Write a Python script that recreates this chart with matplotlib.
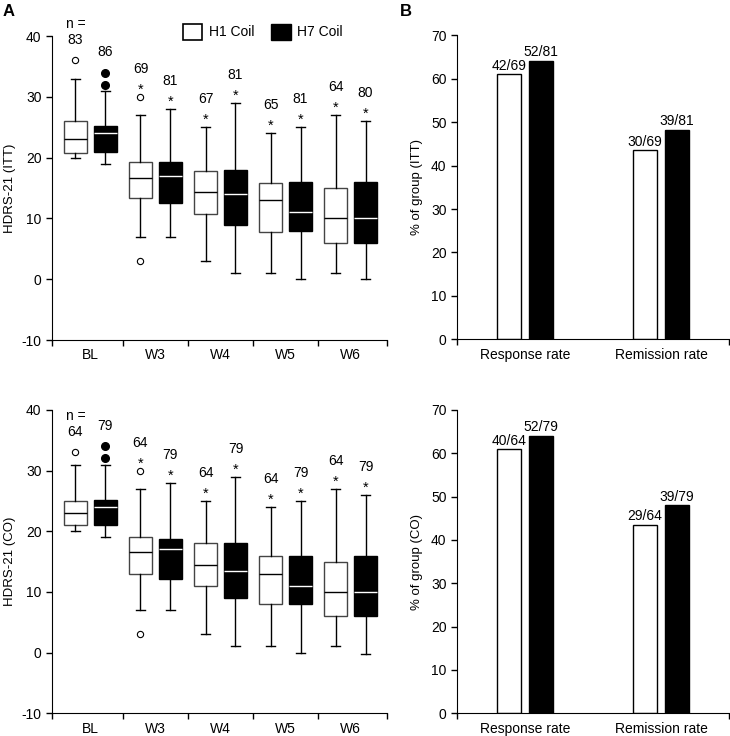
import numpy as np
import matplotlib.pyplot as plt
from matplotlib.patches import Patch

plt.rcParams['font.family'] = ['Liberation Sans', 'DejaVu Sans']
plt.rcParams['axes.unicode_minus'] = False

weeks = ['BL', 'W3', 'W4', 'W5', 'W6']
stars = [False, True, True, True, True]

# HDRS-21 box summaries (whisker low, Q1, median, Q3, whisker high)
itt_h1_lo = [20, 7, 3, 1, 1]
itt_h1_q1 = [20.8, 13.3, 10.7, 7.8, 6]
itt_h1_med = [23, 16.7, 14.3, 13, 10]
itt_h1_q3 = [26, 19.3, 17.8, 15.8, 15]
itt_h1_hi = [33, 27, 25, 24, 27]
itt_h1_out = [[36], [30, 3], [], [], []]
itt_h1_n = [83, 69, 67, 65, 64]

itt_h7_lo = [19, 7, 1, 0, 0]
itt_h7_q1 = [21, 12.5, 9, 8, 6]
itt_h7_med = [24, 17, 14, 11, 10]
itt_h7_q3 = [25.2, 19.3, 18, 16, 16]
itt_h7_hi = [31, 28, 29, 25, 26]
itt_h7_out = [[34, 32], [], [], [], []]
itt_h7_n = [86, 81, 81, 81, 80]

co_h1_lo = [20, 7, 3, 1, 1]
co_h1_q1 = [21, 13, 11, 8, 6]
co_h1_med = [23, 16.5, 14.5, 13, 10]
co_h1_q3 = [25, 19, 18, 16, 15]
co_h1_hi = [31, 27, 25, 24, 27]
co_h1_out = [[33], [30, 3], [], [], []]
co_h1_n = [64, 64, 64, 64, 64]

co_h7_lo = [19, 7, 1, 0, -0.2]
co_h7_q1 = [21, 12.2, 9, 8, 6]
co_h7_med = [24, 17, 13.4, 11, 10]
co_h7_q3 = [25.2, 18.8, 18, 16, 16]
co_h7_hi = [31, 28, 29, 25, 26]
co_h7_out = [[34, 32], [], [], [], []]
co_h7_n = [79, 79, 79, 79, 79]

# response / remission
rates = ['Response rate', 'Remission rate']
itt_h1_pct = [61.0, 43.5]
itt_h7_pct = [64.2, 48.2]
itt_h1_lbl = ['42/69', '30/69']
itt_h7_lbl = ['52/81', '39/81']
co_h1_pct = [60.9, 43.4]
co_h7_pct = [64.1, 48.0]
co_h1_lbl = ['40/64', '29/64']
co_h7_lbl = ['52/79', '39/79']


def make_stats(lo, q1, med, q3, hi, out):
    return [dict(whislo=a, q1=b, med=c, q3=d, whishi=e, fliers=np.array(f))
            for a, b, c, d, e, f in zip(lo, q1, med, q3, hi, out)]


def box_panel(ax, h1, h7, n1, n7, ylabel):
    x = np.arange(len(weeks))
    off = 0.23
    w = 0.36
    ax.bxp(h1, positions=x - off, widths=w, patch_artist=True, showfliers=True,
           boxprops=dict(facecolor='white', edgecolor='#444444', linewidth=1.0),
           medianprops=dict(color='black', linewidth=1.0),
           whiskerprops=dict(color='black', linewidth=1.0),
           capprops=dict(color='black', linewidth=1.0), capwidths=0.14,
           flierprops=dict(marker='o', markersize=4.5, markerfacecolor='white',
                           markeredgecolor='black', markeredgewidth=0.8))
    ax.bxp(h7, positions=x + off, widths=w, patch_artist=True, showfliers=True,
           boxprops=dict(facecolor='black', edgecolor='black', linewidth=1.0),
           medianprops=dict(color='white', linewidth=1.0),
           whiskerprops=dict(color='black', linewidth=1.0),
           capprops=dict(color='black', linewidth=1.0), capwidths=0.14,
           flierprops=dict(marker='o', markersize=5.5, markerfacecolor='black',
                           markeredgecolor='black'))

    for stats, ns, pos in [(h1, n1, x - off), (h7, n7, x + off)]:
        for i, (s, n) in enumerate(zip(stats, ns)):
            top = max([s['whishi']] + list(s['fliers']))
            if stars[i]:
                ax.text(pos[i], top + 1.2, '*', ha='center', va='center', fontsize=10.5)
                ax.text(pos[i], top + 4.6, str(n), ha='center', va='center', fontsize=10)
            else:
                ax.text(pos[i], top + 3.3, str(n), ha='center', va='center', fontsize=10)
                if pos[i] < 0:
                    ax.text(pos[i], top + 6.0, 'n =', ha='center', va='center', fontsize=10)

    ax.set_xlim(-0.59, 4.56)
    ax.set_ylim(-10, 40)
    ax.set_yticks([-10, 0, 10, 20, 30, 40])
    ax.set_xticks(x)
    ax.set_xticklabels(weeks)
    ax.tick_params(axis='x', length=0, labelsize=10, pad=6)
    ax.set_xticks([-0.59, 0.5, 1.5, 2.5, 3.5, 4.56], minor=True)
    ax.tick_params(axis='x', which='minor', length=4, width=1)
    ax.tick_params(axis='y', length=4, width=1, labelsize=10)
    ax.set_ylabel(ylabel, fontsize=9.5, labelpad=4)
    for sp in ['top', 'right']:
        ax.spines[sp].set_visible(False)


def bar_panel(ax, p1, p7, l1, l7, ylabel):
    x = np.arange(len(rates))
    off = 0.118
    w = 0.176
    b1 = ax.bar(x - off, p1, w, color='white', edgecolor='black', linewidth=1.0)
    b7 = ax.bar(x + off, p7, w, color='black', edgecolor='black', linewidth=1.0)
    for bars, labels in [(b1, l1), (b7, l7)]:
        for b, t in zip(bars, labels):
            ax.text(b.get_x() + b.get_width() / 2, b.get_height() + 0.4, t,
                    ha='center', va='bottom', fontsize=10)
    ax.set_xlim(-0.5, 1.5)
    ax.set_ylim(0, 70)
    ax.set_yticks(range(0, 71, 10))
    ax.set_xticks(x)
    ax.set_xticklabels(rates)
    ax.tick_params(axis='x', length=0, labelsize=10, pad=6)
    ax.set_xticks([-0.5, 1.5], minor=True)
    ax.tick_params(axis='x', which='minor', length=4, width=1)
    ax.tick_params(axis='y', length=4, width=1, labelsize=10)
    ax.set_ylabel(ylabel, fontsize=9.5, labelpad=6)
    for sp in ['top', 'right']:
        ax.spines[sp].set_visible(False)


fig = plt.figure(figsize=(7.3, 7.36), dpi=100)
ax1 = fig.add_axes([0.0712, 0.538, 0.459, 0.413])
ax2 = fig.add_axes([0.626, 0.539, 0.3726, 0.413])
ax3 = fig.add_axes([0.0712, 0.031, 0.459, 0.412])
ax4 = fig.add_axes([0.626, 0.031, 0.3726, 0.412])

box_panel(ax1, make_stats(itt_h1_lo, itt_h1_q1, itt_h1_med, itt_h1_q3, itt_h1_hi, itt_h1_out),
          make_stats(itt_h7_lo, itt_h7_q1, itt_h7_med, itt_h7_q3, itt_h7_hi, itt_h7_out),
          itt_h1_n, itt_h7_n, 'HDRS-21 (ITT)')
box_panel(ax3, make_stats(co_h1_lo, co_h1_q1, co_h1_med, co_h1_q3, co_h1_hi, co_h1_out),
          make_stats(co_h7_lo, co_h7_q1, co_h7_med, co_h7_q3, co_h7_hi, co_h7_out),
          co_h1_n, co_h7_n, 'HDRS-21 (CO)')
bar_panel(ax2, itt_h1_pct, itt_h7_pct, itt_h1_lbl, itt_h7_lbl, '% of group (ITT)')
bar_panel(ax4, co_h1_pct, co_h7_pct, co_h1_lbl, co_h7_lbl, '% of group (CO)')

handles = [Patch(facecolor='white', edgecolor='black', linewidth=1.2, label='H1 Coil'),
           Patch(facecolor='black', edgecolor='black', label='H7 Coil')]
fig.legend(handles=handles, loc='center', bbox_to_anchor=(0.36, 0.957), ncol=2,
           frameon=False, fontsize=10, handlelength=1.4, handleheight=1.4,
           handletextpad=0.5, columnspacing=1.2)

fig.text(0.004, 0.985, 'A', fontsize=12, fontweight='bold', va='center')
fig.text(0.548, 0.985, 'B', fontsize=12, fontweight='bold', va='center')

fig.savefig('out.png', dpi=100)
